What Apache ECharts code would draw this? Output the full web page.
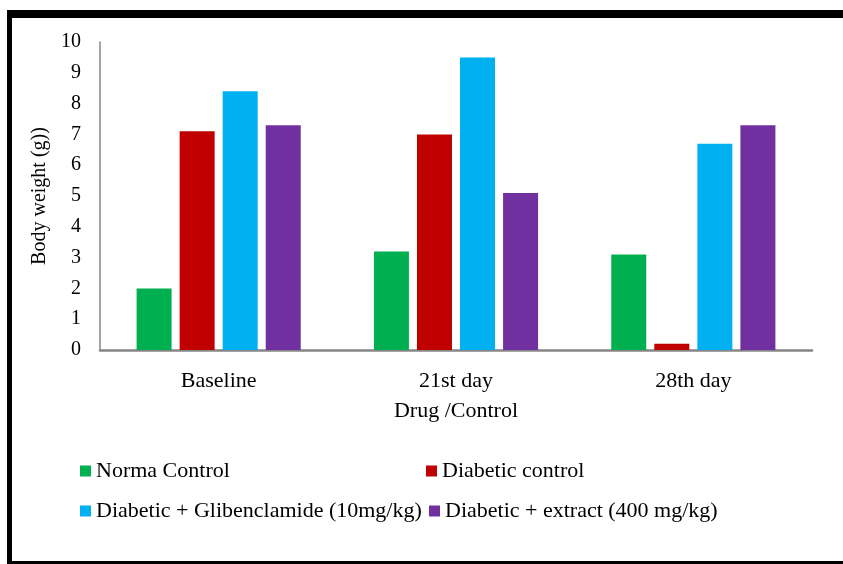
<!DOCTYPE html>
<html>
<head>
<meta charset="utf-8">
<script src="https://cdn.jsdelivr.net/npm/echarts@6/dist/echarts.min.js"></script>
<style>
html,body{margin:0;padding:0;background:#fff;}
#c{width:843px;height:564px;}
</style>
</head>
<body>
<div id="c"></div>
<script>
const categories = ['Baseline', '21st day', '28th day'];
const seriesNames = ['Norma Control', 'Diabetic control', 'Diabetic + Glibenclamide (10mg/kg)', 'Diabetic + extract (400 mg/kg)'];
const normaControl = [2.0, 3.2, 3.1];
const diabeticControl = [7.1, 7.0, 0.2];
const glibenclamide = [8.4, 9.5, 6.7];
const extract = [7.3, 5.1, 7.3];
const colors = ['#00B050', '#C00000', '#00B0F0', '#7030A0'];
const seriesValues = [normaControl, diabeticControl, glibenclamide, extract];

const font = 'Liberation Serif';
const chart = echarts.init(document.getElementById('c'));

const legendPos = [
  {left: 80, top: 460},
  {left: 426, top: 460},
  {left: 80, top: 500},
  {left: 429, top: 500}
];

chart.setOption({
  animation: false,
  backgroundColor: '#ffffff',
  graphic: [
    {type: 'rect', shape: {x: 7, y: 10, width: 840, height: 8}, style: {fill: '#000'}},
    {type: 'rect', shape: {x: 7, y: 10, width: 5, height: 560}, style: {fill: '#000'}},
    {type: 'rect', shape: {x: 7, y: 561, width: 840, height: 5}, style: {fill: '#000'}}
  ],
  grid: {left: 100, right: 31, top: 42, bottom: 214, containLabel: false},
  legend: seriesNames.map((n, i) => ({
    data: [n],
    left: legendPos[i].left,
    top: legendPos[i].top,
    icon: 'rect',
    itemWidth: 11,
    itemHeight: 11,
    padding: 0,
    textStyle: {fontFamily: font, fontSize: 22, color: '#000'}
  })),
  xAxis: {
    type: 'category',
    data: categories,
    name: 'Drug /Control',
    nameLocation: 'middle',
    nameGap: 50,
    nameTextStyle: {fontFamily: font, fontSize: 22, color: '#000'},
    axisLine: {lineStyle: {color: '#868686', width: 2.5}},
    axisTick: {show: false},
    axisLabel: {fontFamily: font, fontSize: 22, color: '#000', margin: 20}
  },
  yAxis: {
    type: 'value',
    min: 0,
    max: 10,
    interval: 1,
    name: 'Body weight (g))',
    nameLocation: 'middle',
    nameGap: 37,
    nameTextStyle: {fontFamily: font, fontSize: 20, color: '#000'},
    axisLine: {show: true, lineStyle: {color: '#868686', width: 1.5}},
    axisTick: {show: false},
    splitLine: {show: false},
    axisLabel: {fontFamily: font, fontSize: 20, color: '#000', margin: 19}
  },
  series: seriesNames.map((n, i) => ({
    name: n,
    type: 'bar',
    data: seriesValues[i],
    barWidth: 35,
    barGap: '23%',
    itemStyle: {color: colors[i]}
  }))
});
</script>
</body>
</html>
